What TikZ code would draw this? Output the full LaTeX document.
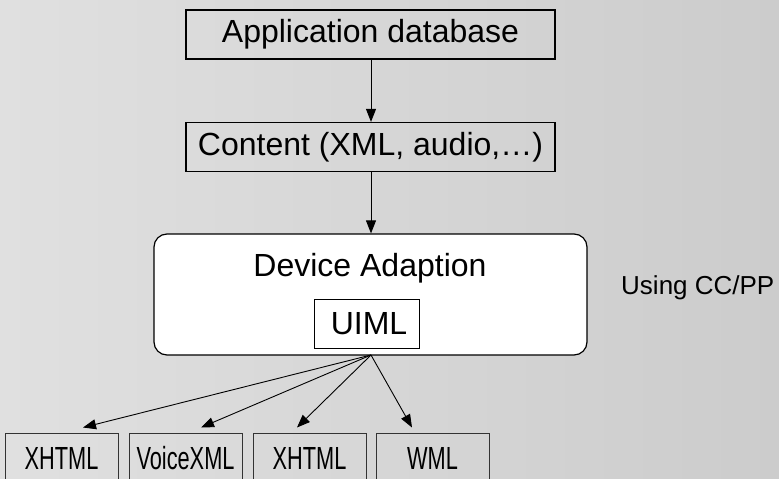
\documentclass[tikz,border=0pt]{standalone}
\usepackage{fontspec}
\usepackage{graphicx}
\setmainfont{Liberation Sans}
\usetikzlibrary{arrows.meta}
\definecolor{bgleft}{RGB}{224,224,224}
\definecolor{bgright}{RGB}{204,204,204}
\tikzset{
  box/.style={draw=black, line width=1.2pt, rectangle, inner sep=0pt,
    minimum width=369pt, minimum height=49pt, font=\fontsize{32}{36}\selectfont},
  outbox/.style={draw=black!80, line width=1pt, rectangle, inner sep=0pt,
    minimum width=113pt, minimum height=50pt, font=\fontsize{32}{36}\selectfont},
  devbox/.style={draw=black, line width=1.2pt, rectangle, rounded corners=13pt,
    fill=white, minimum width=433pt, minimum height=121pt, inner sep=0pt},
  uimlbox/.style={draw=black, line width=1pt, rectangle, fill=white, inner sep=0pt,
    minimum width=105pt, minimum height=49pt, font=\fontsize{32}{36}\selectfont},
  plain/.style={inner sep=0pt, font=\fontsize{32}{36}\selectfont},
  note/.style={inner sep=0pt, font=\fontsize{26}{30}\selectfont},
  link/.style={draw=black, line width=0.9pt, -{Triangle[length=13pt,width=10pt]}},
}
\newcommand{\narrow}[1]{\scalebox{0.68}[1]{#1}}
\begin{document}
\begin{tikzpicture}[x=1pt,y=-1pt]
  % page and backdrop
  \useasboundingbox (0,0) rectangle (779,479);
  \shade[left color=bgleft, right color=bgright] (0,0) rectangle (779,479);

  % upper chain
  \node[box] (appdb) at (370.5,34.5) {Application database};
  \node[box] (content) at (370.5,147) {Content (XML, audio,\ldots)};

  % adaptation stage
  \node[devbox] (device) at (370.5,294.5) {};
  \node[plain] (devlabel) at (370,268) {Device Adaption};
  \node[uimlbox] (uiml) at (366.5,323.5) {\hspace*{5pt}UIML};
  \node[note, anchor=west] (ccpp) at (621,288) {Using CC/PP};

  % output formats
  \node[outbox] (out1) at (61.5,458) {\narrow{XHTML}};
  \node[outbox] (out2) at (185.5,458) {\narrow{VoiceXML}};
  \node[outbox] (out3) at (309.5,458) {\narrow{XHTML}};
  \node[outbox] (out4) at (432.5,458) {\narrow{WML}};

  % connectors
  \coordinate (hub) at (371,355);
  \draw[link] (appdb.south -| 371,0) -- (content.north -| 371,0);
  \draw[link] (content.south -| 371,0) -- (device.north -| 371,0);
  \draw[link] (hub) -- ([xshift=21.5pt,yshift=5pt]out1.north);
  \draw[link] (hub) -- ([xshift=15.5pt,yshift=5pt]out2.north);
  \draw[link] (hub) -- ([xshift=-12.5pt,yshift=5pt]out3.north);
  \draw[link] (hub) -- ([xshift=-20.5pt,yshift=5pt]out4.north);
\end{tikzpicture}
\end{document}
